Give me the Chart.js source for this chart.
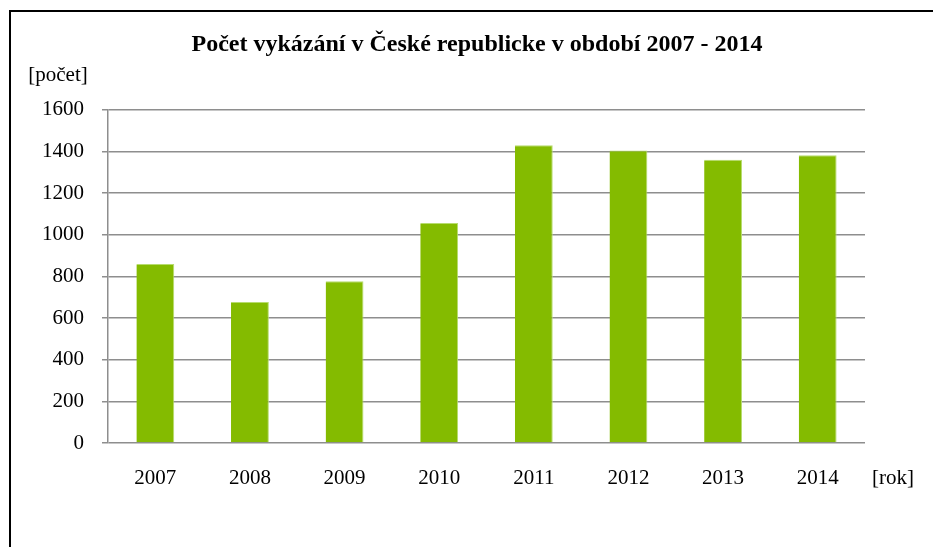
<!DOCTYPE html>
<html>
<head>
<meta charset="utf-8">
<script src="https://cdn.jsdelivr.net/npm/chart.js@4/dist/chart.umd.min.js"></script>
<style>
  html, body { margin: 0; padding: 0; background: #fff; overflow: hidden; }
  #wrap { position: relative; width: 933px; height: 547px; }
  #frame { position: absolute; left: 9px; top: 10px; width: 940px; height: 560px;
           border-left: 2px solid #000; border-top: 2px solid #000; box-sizing: border-box; }
  canvas { position: absolute; left: 0; top: 0; }
</style>
</head>
<body>
<div id="wrap">
  <div id="frame"></div>
  <canvas id="c" width="933" height="547"></canvas>
</div>
<script>
const titleText = 'Počet vykázání v České republicke v období 2007 - 2014';
const yAxisLabel = '[počet]';
const xAxisLabel = '[rok]';
const years = ['2007', '2008', '2009', '2010', '2011', '2012', '2013', '2014'];
const counts = [860, 677, 777, 1057, 1430, 1404, 1360, 1382];

const FONT = '"Liberation Serif", "Times New Roman", serif';

const axisLabels = {
  id: 'axisLabels',
  afterDraw(chart) {
    const ctx = chart.ctx;
    ctx.save();
    ctx.fillStyle = '#000';
    ctx.font = '21px ' + FONT;
    ctx.textBaseline = 'middle';
    ctx.textAlign = 'center';
    ctx.fillText(yAxisLabel, 58, 75);
    ctx.fillText(xAxisLabel, 893, 478);
    ctx.restore();
  }
};

new Chart(document.getElementById('c'), {
  type: 'bar',
  data: {
    labels: years,
    datasets: [{
      data: counts,
      backgroundColor: '#84bb00',
      borderColor: '#b7dc6e',
      borderWidth: { top: 1, right: 1, left: 0, bottom: 0 },
      barPercentage: 0.4,
      categoryPercentage: 1.0
    }]
  },
  options: {
    responsive: false,
    animation: false,
    layout: { padding: { left: 21, right: 0, top: 0, bottom: 0 } },
    plugins: {
      legend: { display: false },
      tooltip: { enabled: false },
      title: {
        display: true,
        text: titleText,
        color: '#000',
        font: { family: FONT, size: 24, weight: 'bold', lineHeight: 1.2 },
        padding: { top: 30, bottom: 51 }
      }
    },
    scales: {
      x: {
        afterFit(scale) { scale.height = 104; },
        grid: { display: false, drawTicks: false },
        border: { display: false },
        ticks: { color: '#000', font: { family: FONT, size: 21 }, padding: 23, maxRotation: 0 }
      },
      y: {
        min: 0, max: 1600,
        afterFit(scale) { scale.width = 87; },
        grid: { color: '#8e8e8e', lineWidth: 1.5, tickLength: 6, drawTicks: true },
        border: { display: true, color: '#8e8e8e', width: 1.5 },
        ticks: {
          display: true, stepSize: 200, color: '#000',
          font: { family: FONT, size: 21 }, padding: 18,
          callback: (v) => String(v)
        }
      },
      yPad: {
        position: 'right',
        display: true,
        afterFit(scale) { scale.width = 68; },
        grid: { display: false, drawTicks: false },
        border: { display: false },
        ticks: { display: false }
      }
    }
  },
  plugins: [axisLabels]
});
</script>
</body>
</html>
